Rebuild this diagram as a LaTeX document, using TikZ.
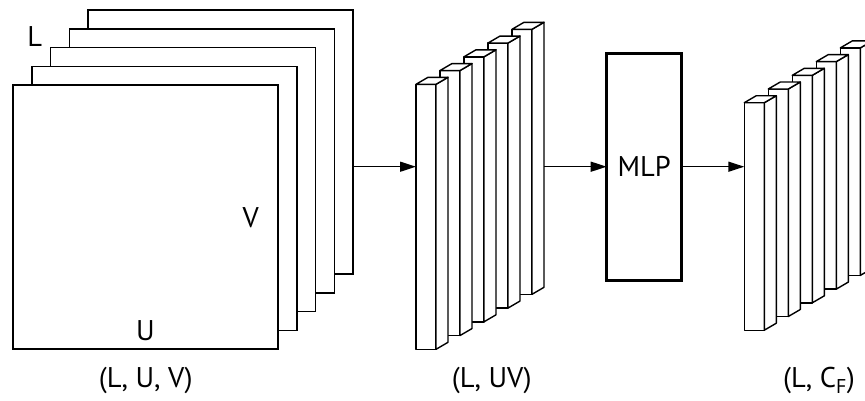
\documentclass[tikz,border=0pt]{standalone}
\usepackage{fontspec}
\setmainfont{PT Sans}
\usetikzlibrary{arrows.meta}
\newcommand\drawbar[4]{%
  \node[face, minimum width=20pt, minimum height=#4pt, anchor=north west] (#1) at (#2,#3) {};
  \draw[face] (#1.north east) -- ++(12,-7) -- ++(0,#4) -- (#1.south east) -- cycle;
  \draw[face] (#1.north west) -- ++(12,-7) -- ++(20,0) -- (#1.north east) -- cycle;
}
\begin{document}
\begin{tikzpicture}[x=1pt,y=-1pt,
  sq/.style={draw, line width=1.5pt, fill=white, minimum width=265pt, minimum height=264pt, inner sep=0pt, outer sep=0pt},
  face/.style={draw, line width=1.4pt, fill=white, line join=round, inner sep=0pt, outer sep=0pt},
  lbl/.style={font=\fontsize{28.5}{31}\selectfont, inner sep=0pt, anchor=base},
  conn/.style={line width=1.4pt, -{Triangle[length=16pt,width=10pt]}},
  mlpbox/.style={draw, line width=3pt, minimum width=75pt, minimum height=226.7pt, inner sep=0pt, outer sep=0pt, font=\fontsize{28.5}{31}\selectfont}]
\clip (0,0) rectangle (865,400);
% input planes
\foreach \k in {4,3,2,1,0} {
  \node[sq] (s\k) at ({145.5+18.75*\k},{217-18.75*\k}) {};
}
% middle bars
\foreach \k in {4,3,2,1,0} {
  \pgfmathsetmacro\bx{416+24*\k}
  \pgfmathsetmacro\by{84.3-13.75*\k}
  \drawbar{m\k}{\bx}{\by}{265}
}
% MLP
\node[mlpbox] (mlp) at (644.2,166.7) {MLP};
% right bars
\foreach \k in {4,3,2,1,0} {
  \pgfmathsetmacro\bx{744.3+24*\k}
  \pgfmathsetmacro\by{102.7-13.7*\k}
  \drawbar{r\k}{\bx}{\by}{227.5}
}
\path (m4.east) ++(12,0) coordinate (m4r);
% connectors
\draw[conn] (s4.east |- mlp.west) -- (m0.west |- mlp.west);
\draw[conn] (m4r |- mlp.west) -- (mlp.west);
\draw[conn] (mlp.east) -- (r0.west |- mlp.east);
% labels
\node[lbl] (tL) at (34.7,46) {L};
\node[lbl] (tV) at (250.8,227.7) {V};
\node[lbl] (tU) at (145.5,340.7) {U};
\node[lbl] (c1) at (145.8,387.7) {(L, U, V)};
\node[lbl] (c2) at (491.7,387.7) {(L, UV)};
\node[lbl] (c3) at (819,387.7) {(L, C\textsubscript{F})};
\end{tikzpicture}
\end{document}
